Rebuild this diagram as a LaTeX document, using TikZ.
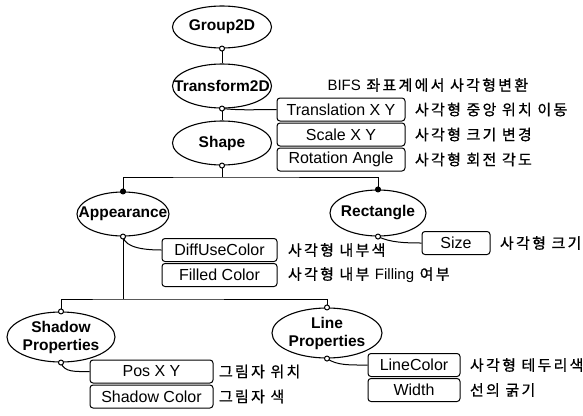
\documentclass[tikz,border=0pt]{standalone}
\usepackage{fontspec}
\setmainfont{Liberation Sans}
\newfontfamily\kr[LetterSpace=15, FakeBold=0.8]{Noto Sans CJK KR}
\usetikzlibrary{positioning,shapes.geometric}
\begin{document}
\begin{tikzpicture}[x=1pt, y=-1pt, line width=1pt,
  elem/.style={ellipse, draw, line width=1.1pt, inner sep=0pt, align=center,
               font=\fontsize{15.5}{18}\selectfont\bfseries},
  field/.style={rectangle, rounded corners=3pt, draw, inner sep=0pt,
                minimum height=23pt, font=\fontsize{16}{18}\selectfont},
  note/.style={inner sep=1pt, anchor=west, font=\fontsize{15}{16}\selectfont\kr},
  port/.style={circle, draw, fill=white, line width=1pt, inner sep=0pt, minimum size=5pt},
  dot/.style={port, fill=black}]
\useasboundingbox (0,0) rectangle (583,415);
\fill[white] (0,0) rectangle (583,415);

% nodes of the scene tree
\node[elem, minimum width=99pt, minimum height=42pt] (group) at (222,27) {\makebox[0pt]{Group2D}};
\node[elem, minimum width=99pt, minimum height=44pt] (trans) at (222,86) {\makebox[0pt]{Transform2D}};
\node[elem, minimum width=99pt, minimum height=44pt] (shape) at (222,143) {\makebox[0pt]{Shape}};
\node[elem, minimum width=92pt, minimum height=44pt] (appear) at (123,214) {\makebox[0pt]{Appearance}};
\node[elem, minimum width=96pt, minimum height=46pt] (rect) at (378,213) {\makebox[0pt]{Rectangle}};
\node[elem, minimum width=108pt, minimum height=50pt] (shadow) at (61,337)
  {\makebox[0pt]{Shadow}\\\makebox[0pt]{Properties}};
\node[elem, minimum width=110pt, minimum height=50pt] (lineprop) at (327,333)
  {\makebox[0pt]{Line}\\\makebox[0pt]{Properties}};

% fields
\node[field, minimum width=128pt] (trbox) at (341,109.5) {Translation X Y};
\node[field, minimum width=128pt, below=1pt of trbox] (scbox) {Scale X Y};
\node[field, minimum width=128pt, below=1pt of scbox] (robox) {Rotation Angle};
\node[field, minimum width=115pt] (dfbox) at (219.5,250) {DiffUseColor};
\node[field, minimum width=115pt, below=1pt of dfbox] (fcbox) {Filled Color};
\node[field, minimum width=68pt] (szbox) at (456,243) {Size};
\node[field, minimum width=123pt] (psbox) at (151.5,371.5) {Pos X Y};
\node[field, minimum width=123pt, below=1pt of psbox] (scolbox) {Shadow Color};
\node[field, minimum width=92pt] (lcbox) at (414,365) {LineColor};
\node[field, minimum width=92pt, below=1pt of lcbox] (wdbox) {Width};

% notes
\node[note] (bifs) at (326,85) {{\normalfont BIFS} 좌표계에서 사각형변환};
\node[note, right=8pt of trbox] (trnote) {사각형 중앙 위치 이동};
\node[note, right=8pt of scbox] (scnote) {사각형 크기 변경};
\node[note, right=8pt of robox] (ronote) {사각형 회전 각도};
\node[note, right=9pt of dfbox] (dfnote) {사각형 내부색};
\node[note, right=9pt of fcbox] (fcnote) {사각형 내부 {\normalfont Filling} 여부};
\node[note, right=8pt of szbox] (sznote) {사각형 크기};
\node[note, right=4pt of psbox] (psnote) {그림자 위치};
\node[note, right=4pt of scolbox] (scolnote) {그림자 색};
\node[note, right=8pt of lcbox] (lcnote) {사각형 테두리색};
\node[note, right=8pt of wdbox] (wdnote) {선의 굵기};

\coordinate (shapejoin) at (222,177);
\coordinate (appjoin) at (123,299);

% connectors
\draw (group.south) -- (trans.north);
\draw (trans.south) -- (shape.north);
\draw (trans.south) .. controls +(20,2) and +(-20,0) .. (trbox.west);
\draw (shape.south) -- (shapejoin);
\draw (appear.north) |- (shapejoin) -| (rect.north);
\draw (appear.south) -- (appjoin);
\draw (shadow.north) |- (appjoin) -| (lineprop.north);
\draw (appear.south) .. controls +(2,12) and +(-14,0) .. (dfbox.west);
\draw (rect.south) .. controls +(12,6) and +(-16,0) .. (szbox.west);
\draw (shadow.south) .. controls +(3,10) and +(-14,0) .. (psbox.west);
\draw (lineprop.south) .. controls +(10,7) and +(-18,0) .. (lcbox.west);

% ports
\node[port] (group-s) at (group.south) {};
\node[port] (trans-s) at (trans.south) {};
\node[port] (shape-s) at (shape.south) {};
\node[dot] (appear-n) at (appear.north) {};
\node[port] (appear-s) at (appear.south) {};
\node[dot] (rect-n) at (rect.north) {};
\node[port] (rect-s) at (rect.south) {};
\node[port] (shadow-n) at (shadow.north) {};
\node[port] (shadow-s) at (shadow.south) {};
\node[port] (lineprop-n) at (lineprop.north) {};
\node[port] (lineprop-s) at (lineprop.south) {};
\end{tikzpicture}
\end{document}
